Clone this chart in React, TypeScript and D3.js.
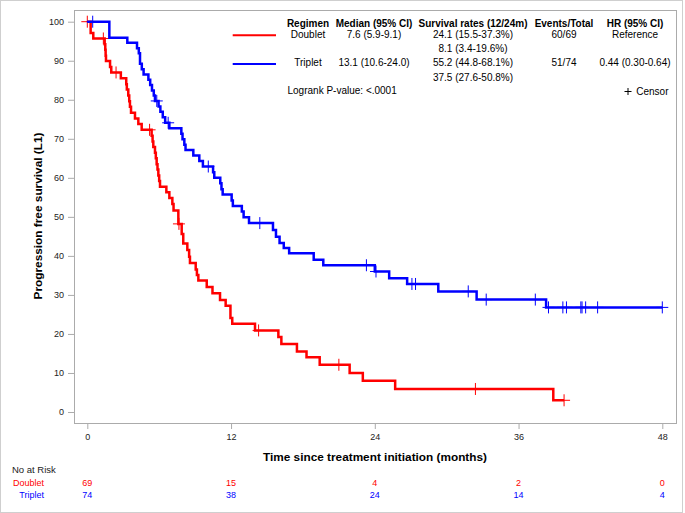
import React, { useEffect, useRef } from "react";
import * as d3 from "d3";

// Kaplan-Meier step data (months, survival %)
const doubletTimes = [0, 0.28, 0.5, 1.45, 1.5, 1.53, 1.56, 1.9, 2.0, 2.8, 3.25, 3.3, 3.42, 3.5, 3.56, 3.65, 3.98, 4.26, 4.54, 5.37, 5.45, 5.51, 5.65, 5.72, 5.79, 5.86, 5.93, 6.0, 6.07, 6.6, 6.85, 7.1, 7.2, 7.6, 7.88, 8.01, 8.35, 8.5, 8.57, 9.05, 9.15, 9.27, 9.97, 10.45, 11.08, 11.55, 11.95, 12.1, 14.0, 15.95, 16.2, 17.5, 18.3, 19.4, 21.9, 23.0, 25.7, 38.9];
const doubletSurv = [100, 97.1, 95.7, 94.2, 92.8, 91.3, 89.9, 88.4, 87.0, 85.5, 84.0, 82.6, 81.1, 79.6, 78.2, 76.7, 75.2, 73.8, 72.3, 70.8, 69.3, 67.9, 66.4, 65.0, 63.5, 62.1, 60.6, 59.2, 57.7, 56.3, 54.8, 53.3, 51.6, 48.2, 45.6, 43.2, 41.5, 39.8, 38.2, 36.5, 35.1, 33.7, 32.0, 30.4, 28.7, 27.2, 24.1, 22.6, 20.9, 19.2, 17.4, 15.5, 14.0, 12.1, 10.0, 8.0, 5.9, 3.0];
const doubletEnd = 39.8;
const doubletCensor = [0, 1.34, 2.4, 5.2, 7.65, 14.3, 21.0, 32.4, 39.8];

const tripletTimes = [0, 1.84, 3.34, 4.15, 4.3, 4.4, 4.55, 4.7, 5.1, 5.25, 5.4, 5.55, 5.65, 5.95, 6.1, 6.3, 6.5, 6.85, 7.85, 7.95, 8.1, 8.2, 8.85, 9.35, 9.65, 10.5, 10.6, 11.1, 11.2, 11.3, 12.05, 12.15, 12.9, 13.05, 13.5, 15.5, 15.75, 16.05, 16.4, 16.85, 18.9, 19.7, 24.0, 25.2, 26.7, 29.3, 32.5, 38.3];
const tripletSurv = [100, 95.9, 94.6, 93.2, 91.9, 89.2, 87.8, 86.5, 85.1, 83.8, 82.4, 81.1, 79.7, 78.3, 76.9, 75.5, 74.1, 72.7, 71.3, 69.9, 68.5, 67.1, 65.7, 64.3, 62.9, 61.4, 60.0, 58.6, 57.1, 55.7, 54.2, 52.8, 51.4, 49.9, 48.4, 46.6, 44.9, 43.3, 42.0, 40.7, 39.0, 37.6, 36.0, 34.3, 32.8, 30.9, 28.8, 26.8];
const tripletEnd = 48.0;
const tripletCensor = [0.45, 5.8, 6.75, 10.1, 14.4, 23.3, 24.1, 27.1, 27.4, 31.8, 33.3, 37.4, 38.5, 39.7, 40.0, 41.2, 41.3, 41.6, 42.6, 48.0];

const xTicks = [0, 12, 24, 36, 48];
const yTicks = [0, 10, 20, 30, 40, 50, 60, 70, 80, 90, 100];
const doubletRisk = [69, 15, 4, 2, 0];
const tripletRisk = [74, 38, 24, 14, 4];

const tableHeaders = ["Regimen", "Median (95% CI)", "Survival rates (12/24m)", "Events/Total", "HR (95% CI)"];
const doubletRow = ["Doublet", "7.6 (5.9-9.1)", "24.1 (15.5-37.3%)", "60/69", "Reference"];
const doubletRow2 = "8.1 (3.4-19.6%)";
const tripletRow = ["Triplet", "13.1 (10.6-24.0)", "55.2 (44.8-68.1%)", "51/74", "0.44 (0.30-0.64)"];
const tripletRow2 = "37.5 (27.6-50.8%)";

const RED = "#ff0000";
const BLUE = "#0000ff";
const FONT = "'Liberation Sans', Arial, sans-serif";

const App = () => {
  const svgRef = useRef(null);

  useEffect(() => {
    const width = 685;
    const height = 513;
    const frame = { left: 74, top: 10, right: 676, bottom: 423 };

    const svg = d3.select(svgRef.current);
    svg.selectAll("*").remove();
    svg.attr("font-family", FONT);

    // outer border
    svg.append("rect")
      .attr("x", 0.5).attr("y", 0.5)
      .attr("width", width - 3).attr("height", height - 1)
      .attr("fill", "white").attr("stroke", "#cfcfcf");

    const x = d3.scaleLinear().domain([0, 48]).range([87.3, 662.3]);
    const y = d3.scaleLinear().domain([0, 100]).range([412, 21.7]);

    // plot frame
    svg.append("rect")
      .attr("x", frame.left + 0.5).attr("y", frame.top + 0.5)
      .attr("width", frame.right - frame.left).attr("height", frame.bottom - frame.top)
      .attr("fill", "none").attr("stroke", "#ababab");

    const yAxis = svg.append("g")
      .attr("transform", `translate(${frame.left},0)`)
      .call(d3.axisLeft(y).tickValues(yTicks).tickSize(6).tickPadding(4));
    yAxis.select(".domain").remove();
    yAxis.selectAll("line").attr("stroke", "#ababab");
    yAxis.selectAll("text").attr("font-size", 9).attr("fill", "#222").attr("font-family", FONT);

    const xAxis = svg.append("g")
      .attr("transform", `translate(0,${frame.bottom})`)
      .call(d3.axisBottom(x).tickValues(xTicks).tickSize(6).tickPadding(5));
    xAxis.select(".domain").remove();
    xAxis.selectAll("line").attr("stroke", "#ababab");
    xAxis.selectAll("text").attr("font-size", 9).attr("fill", "#222").attr("font-family", FONT);

    // axis titles
    svg.append("text")
      .attr("x", 375).attr("y", 461)
      .attr("text-anchor", "middle")
      .attr("font-size", 11).attr("font-weight", "bold")
      .attr("textLength", 224).attr("lengthAdjust", "spacingAndGlyphs")
      .text("Time since treatment initiation (months)");

    svg.append("text")
      .attr("transform", `translate(42,216) rotate(-90)`)
      .attr("text-anchor", "middle")
      .attr("font-size", 11).attr("font-weight", "bold")
      .attr("textLength", 167).attr("lengthAdjust", "spacingAndGlyphs")
      .text("Progression free survival (L1)");

    // survival curves
    const line = d3.line()
      .x((d) => x(d[0]))
      .y((d) => y(d[1]))
      .curve(d3.curveStepAfter);

    const survAt = (times, surv, t) => {
      let v = surv[0];
      times.forEach((tt, i) => { if (tt <= t) v = surv[i]; });
      return v;
    };

    const groups = [
      { times: doubletTimes, surv: doubletSurv, end: doubletEnd, censor: doubletCensor, color: RED },
      { times: tripletTimes, surv: tripletSurv, end: tripletEnd, censor: tripletCensor, color: BLUE },
    ];

    groups.forEach((g) => {
      const pts = g.times.map((t, i) => [t, g.surv[i]]);
      pts.push([g.end, g.surv[g.surv.length - 1]]);
      svg.append("path")
        .attr("d", line(pts))
        .attr("fill", "none")
        .attr("stroke", g.color)
        .attr("stroke-width", 2.5);

      svg.append("g")
        .selectAll("path")
        .data(g.censor)
        .enter()
        .append("path")
        .attr("d", (t) => {
          const cx = x(t);
          const cy = y(survAt(g.times, g.surv, t));
          return `M${cx - 6},${cy}h12M${cx},${cy - 6}v12`;
        })
        .attr("stroke", g.color)
        .attr("stroke-width", 1);
    });

    // legend / summary table
    const cols = [308, 374, 473, 564, 635];
    const table = svg.append("g").attr("font-size", 10).attr("fill", "black");
    tableHeaders.forEach((h, i) => {
      table.append("text").attr("x", cols[i]).attr("y", 27.3)
        .attr("text-anchor", "middle").attr("font-weight", "bold").text(h);
    });
    doubletRow.forEach((v, i) => {
      table.append("text").attr("x", cols[i]).attr("y", 37.5).attr("text-anchor", "middle").text(v);
    });
    table.append("text").attr("x", cols[2]).attr("y", 51.8).attr("text-anchor", "middle").text(doubletRow2);
    tripletRow.forEach((v, i) => {
      table.append("text").attr("x", cols[i]).attr("y", 66).attr("text-anchor", "middle").text(v);
    });
    table.append("text").attr("x", cols[2]).attr("y", 80.7).attr("text-anchor", "middle").text(tripletRow2);
    table.append("text").attr("x", 287.5).attr("y", 94).text("Logrank P-value: <.0001");
    table.append("text").attr("x", 668.5).attr("y", 95).attr("text-anchor", "end").text("Censor");
    table.append("path").attr("d", "M624.5,91.5h7M628,88v7").attr("stroke", "black").attr("stroke-width", 1);

    svg.append("line").attr("x1", 232.7).attr("x2", 276).attr("y1", 35.3).attr("y2", 35.3)
      .attr("stroke", RED).attr("stroke-width", 2);
    svg.append("line").attr("x1", 232.7).attr("x2", 276).attr("y1", 64).attr("y2", 64)
      .attr("stroke", BLUE).attr("stroke-width", 2);

    // number at risk
    svg.append("text").attr("x", 12).attr("y", 473).attr("font-size", 9.5).attr("fill", "#222").text("No at Risk");
    svg.append("text").attr("x", 44).attr("y", 485.5).attr("text-anchor", "end")
      .attr("font-size", 9).attr("fill", RED).text("Doublet");
    svg.append("text").attr("x", 44).attr("y", 497.5).attr("text-anchor", "end")
      .attr("font-size", 9).attr("fill", BLUE).text("Triplet");

    const risk = svg.append("g").attr("font-size", 9).attr("text-anchor", "middle");
    xTicks.forEach((t, i) => {
      risk.append("text").attr("x", x(t)).attr("y", 485.5).attr("fill", RED).text(doubletRisk[i]);
      risk.append("text").attr("x", x(t)).attr("y", 497.5).attr("fill", BLUE).text(tripletRisk[i]);
    });
  }, []);

  return (
    <svg
      ref={svgRef}
      width={685}
      height={513}
      style={{ position: "absolute", left: 0, top: 0, background: "white" }}
    ></svg>
  );
};

export default App;
